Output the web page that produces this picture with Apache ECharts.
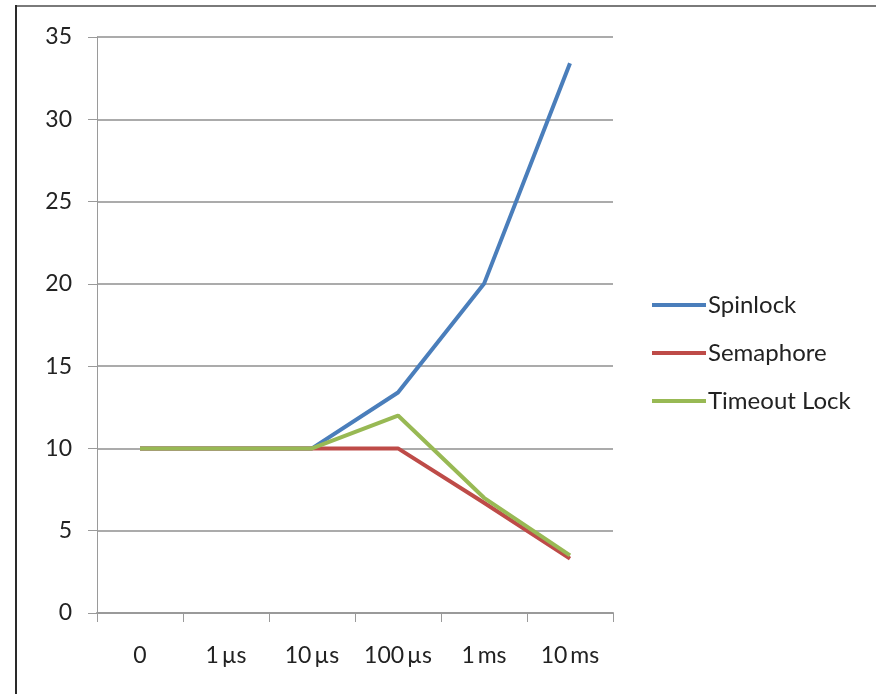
<!DOCTYPE html>
<html>
<head>
<meta charset="utf-8">
<script src="https://cdn.jsdelivr.net/npm/echarts@6/dist/echarts.min.js"></script>
<style>
html,body{margin:0;padding:0;background:#fff;overflow:hidden;}
#chart{width:876px;height:694px;}
</style>
</head>
<body>
<div id="chart"></div>
<script>
const categories = ['0', '1\u2009\u00b5s', '10\u2009\u00b5s', '100\u2009\u00b5s', '1\u2009ms', '10\u2009ms'];
const spinlock = [10, 10, 10, 13.4, 20, 33.4];
const semaphore = [10, 10, 10, 10, 6.7, 3.3];
const timeoutLock = [10, 10, 10, 12, 7, 3.5];
const seriesNames = ['Spinlock', 'Semaphore', 'Timeout Lock'];
const colors = ['#4A7EBB', '#BE4B48', '#98B954'];

const font = 'Lato, "Open Sans", sans-serif';
const chart = echarts.init(document.getElementById('chart'), null, {renderer: 'canvas'});
const seriesData = [spinlock, semaphore, timeoutLock];
chart.setOption({
  animation: false,
  backgroundColor: '#ffffff',
  color: colors,
  textStyle: {fontFamily: font},
  grid: {left: 97, right: 263, top: 37, bottom: 81},
  legend: {
    orient: 'vertical',
    left: 652,
    top: 292,
    itemWidth: 54,
    itemHeight: 4,
    itemGap: 22,
    padding: 0,
    data: seriesNames.map((n, i) => ({name: n, icon: 'rect', itemStyle: {color: colors[i], borderWidth: 0}})),
    textStyle: {fontSize: 24, color: '#222222', fontFamily: font, padding: [0, 0, 0, -3], lineHeight: 26}
  },
  xAxis: {
    type: 'category',
    data: categories,
    boundaryGap: true,
    axisLine: {lineStyle: {color: '#9a9a9a', width: 2}},
    axisTick: {show: true, interval: 0, length: 9, lineStyle: {color: '#9a9a9a', width: 1}},
    axisLabel: {interval: 0, hideOverlap: false, fontSize: 23, color: '#222222', margin: 31, fontFamily: font}
  },
  yAxis: {
    type: 'value',
    min: 0, max: 35, interval: 5,
    axisLine: {show: true, lineStyle: {color: '#9a9a9a', width: 1}},
    axisTick: {show: true, length: 9, lineStyle: {color: '#9a9a9a', width: 1}},
    splitLine: {lineStyle: {color: '#ababab', width: 2}},
    axisLabel: {fontSize: 23, color: '#222222', margin: 25, fontFamily: font}
  },
  series: seriesNames.map((n, i) => ({
    name: n,
    type: 'line',
    data: seriesData[i],
    symbol: 'none',
    lineStyle: {width: 4, color: colors[i]},
    itemStyle: {color: colors[i]}
  })),
  graphic: [
    {type: 'rect', shape: {x: 15, y: 5, width: 861, height: 2}, style: {fill: '#7a7a7a'}},
    {type: 'rect', shape: {x: 15, y: 5, width: 2, height: 689}, style: {fill: '#2a2a2a'}}
  ]
});
</script>
</body>
</html>
